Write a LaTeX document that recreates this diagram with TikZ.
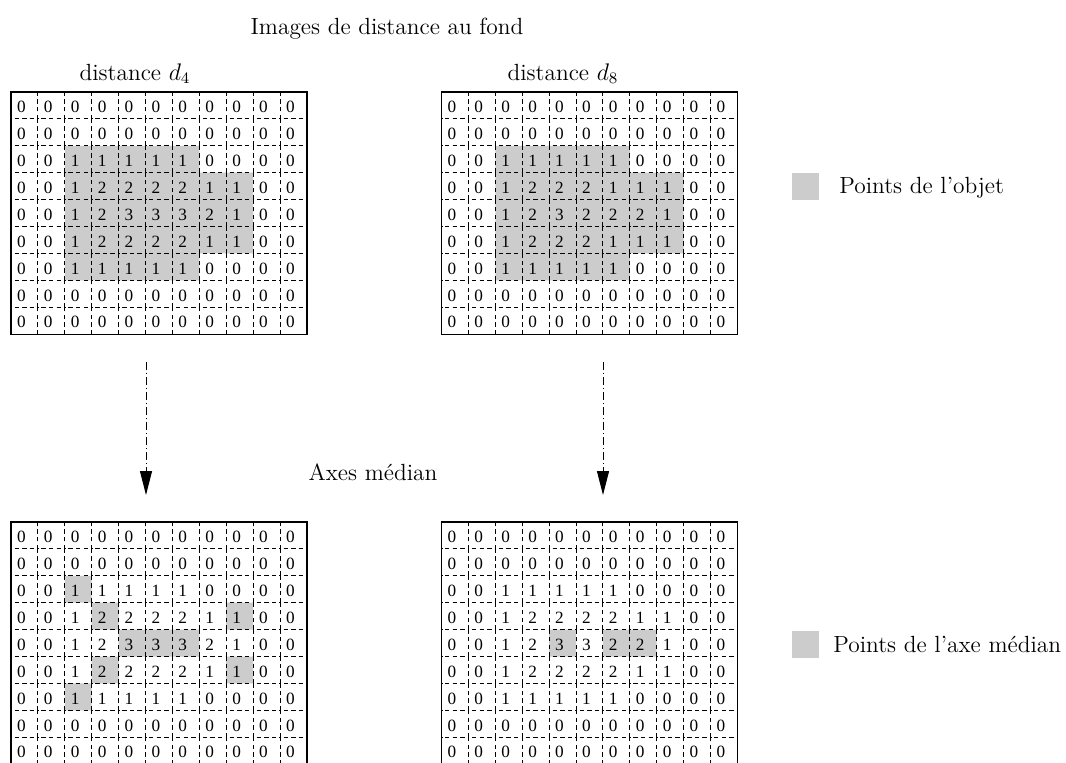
\documentclass[tikz,border=0pt]{standalone}
\usepackage{fontspec}
\newfontfamily\numfont{Liberation Serif}
\usetikzlibrary{arrows.meta}
\definecolor{objgray}{HTML}{CCCCCC}
\tikzset{
  cellbox/.style={draw=black, line width=0.45pt, dash pattern=on 2.2pt off 1.6pt},
  frame/.style={draw=black, line width=0.6pt},
  digit/.style={anchor=base west, inner sep=0pt, font=\numfont\fontsize{8.6}{10}\selectfont},
  lbl/.style={font=\fontsize{11.7}{14}\selectfont, inner sep=0pt},
  legendbox/.style={fill=objgray, draw=none},
  flow/.style={line width=0.5pt, dash pattern=on 4pt off 1.5pt on 0.5pt off 1.5pt, -{Triangle[length=12pt,width=6pt]}},
}
\newcommand{\dgrid}[5]{%
  \begin{scope}[shift={(#2,#3)}, x=13.45pt, y=-13.45pt]
    \fill[objgray] #5;
    \foreach \rowvals [count=\r from 0] in {#4} {
      \foreach \v [count=\c from 0] in \rowvals {
        \draw[cellbox] (\c,\r+1) -- (\c,\r) -- (\c+1,\r);
        \node[digit] (#1-\r-\c) at (\c+0.21,\r+0.77) {\v};
      }
    }
    \draw[frame] (0,0) rectangle (11,9);
  \end{scope}}
\begin{document}
\begin{tikzpicture}[x=0.5pt, y=-0.5pt]
\useasboundingbox (0,0) rectangle (1066,762);

% titles
\node[lbl, anchor=base] (title) at (387,34) {Images de distance au fond};
\node[lbl, anchor=base] (ld4) at (135,80) {distance $d_4$};
\node[lbl, anchor=base] (ld8) at (563,80) {distance $d_8$};
\node[lbl, anchor=base] (axes) at (373,480) {Axes médian};

% top left: d4
\dgrid{dq}{11}{92}{
 {0,0,0,0,0,0,0,0,0,0,0},
 {0,0,0,0,0,0,0,0,0,0,0},
 {0,0,1,1,1,1,1,0,0,0,0},
 {0,0,1,2,2,2,2,1,1,0,0},
 {0,0,1,2,3,3,3,2,1,0,0},
 {0,0,1,2,2,2,2,1,1,0,0},
 {0,0,1,1,1,1,1,0,0,0,0},
 {0,0,0,0,0,0,0,0,0,0,0},
 {0,0,0,0,0,0,0,0,0,0,0}}
 {(2,2) -- (7,2) -- (7,3) -- (9,3) -- (9,6) -- (7,6) -- (7,7) -- (2,7) -- cycle}

% top right: d8
\dgrid{dh}{441.5}{92}{
 {0,0,0,0,0,0,0,0,0,0,0},
 {0,0,0,0,0,0,0,0,0,0,0},
 {0,0,1,1,1,1,1,0,0,0,0},
 {0,0,1,2,2,2,1,1,1,0,0},
 {0,0,1,2,3,2,2,2,1,0,0},
 {0,0,1,2,2,2,1,1,1,0,0},
 {0,0,1,1,1,1,1,0,0,0,0},
 {0,0,0,0,0,0,0,0,0,0,0},
 {0,0,0,0,0,0,0,0,0,0,0}}
 {(2,2) -- (7,2) -- (7,3) -- (9,3) -- (9,6) -- (7,6) -- (7,7) -- (2,7) -- cycle}

% bottom left: medial axis d4
\dgrid{mq}{11}{522}{
 {0,0,0,0,0,0,0,0,0,0,0},
 {0,0,0,0,0,0,0,0,0,0,0},
 {0,0,1,1,1,1,1,0,0,0,0},
 {0,0,1,2,2,2,2,1,1,0,0},
 {0,0,1,2,3,3,3,2,1,0,0},
 {0,0,1,2,2,2,2,1,1,0,0},
 {0,0,1,1,1,1,1,0,0,0,0},
 {0,0,0,0,0,0,0,0,0,0,0},
 {0,0,0,0,0,0,0,0,0,0,0}}
 {(2,2) rectangle (3,3) (3,3) rectangle (4,4) (8,3) rectangle (9,4)
  (4,4) rectangle (7,5) (3,5) rectangle (4,6) (8,5) rectangle (9,6)
  (2,6) rectangle (3,7)}

% bottom right: medial axis d8
\dgrid{mh}{441.5}{522}{
 {0,0,0,0,0,0,0,0,0,0,0},
 {0,0,0,0,0,0,0,0,0,0,0},
 {0,0,1,1,1,1,1,0,0,0,0},
 {0,0,1,2,2,2,2,1,1,0,0},
 {0,0,1,2,3,3,2,2,1,0,0},
 {0,0,1,2,2,2,2,1,1,0,0},
 {0,0,1,1,1,1,1,0,0,0,0},
 {0,0,0,0,0,0,0,0,0,0,0},
 {0,0,0,0,0,0,0,0,0,0,0}}
 {(4,4) rectangle (5,5) (6,4) rectangle (8,5)}

% arrows
\coordinate (a1s) at (146,362);
\coordinate (a1e) at (146,495);
\coordinate (a2s) at (603,362);
\coordinate (a2e) at (603,495);
\draw[flow] (a1s) -- (a1e);
\draw[flow] (a2s) -- (a2e);

% legends
\node[legendbox, minimum size=13.5pt, inner sep=0pt, anchor=north west] (leg1) at (792,173) {};
\node[lbl, anchor=base west] (leg1t) at (839,193) {Points de l'objet};
\node[legendbox, minimum size=13.5pt, inner sep=0pt, anchor=north west] (leg2) at (792,631) {};
\node[lbl, anchor=base west] (leg2t) at (833,652) {Points de l'axe médian};
\end{tikzpicture}
\end{document}
